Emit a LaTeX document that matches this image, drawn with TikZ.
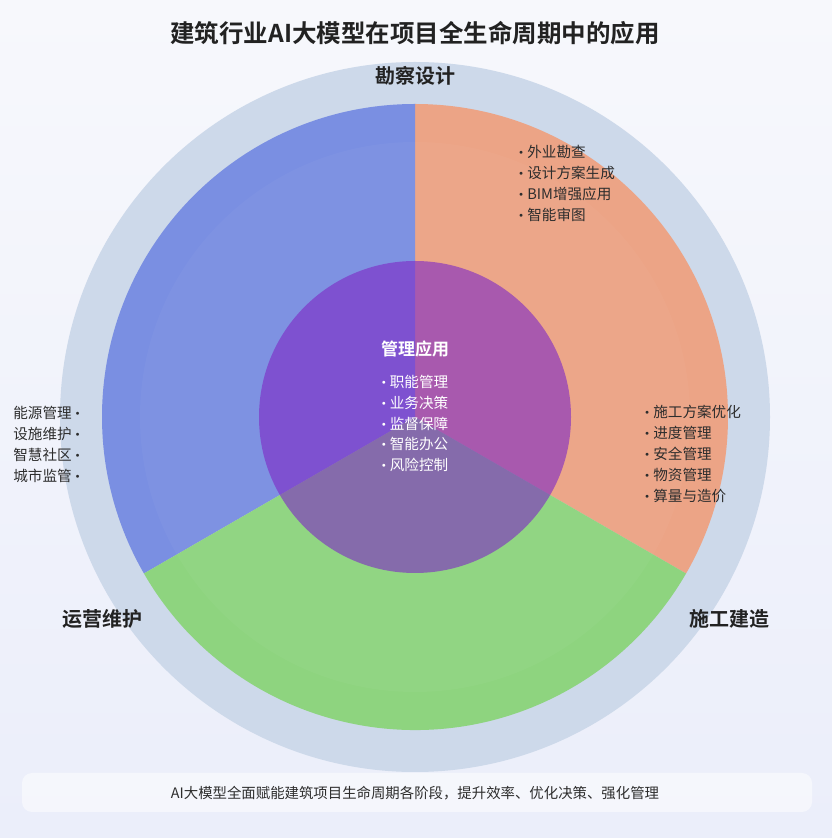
\documentclass[tikz,border=0pt]{standalone}
\usepackage{fontspec}
\setmainfont{Noto Sans CJK SC}[BoldFont={Noto Sans CJK SC Bold}]
\definecolor{bgtop}{RGB}{247,248,252}
\definecolor{bgbot}{RGB}{235,238,250}
\definecolor{ringc}{RGB}{205,217,234}
\definecolor{designc}{RGB}{236,164,134}
\definecolor{buildc}{RGB}{142,212,127}
\definecolor{operc}{RGB}{122,143,226}
\definecolor{mgmtc}{RGB}{127,42,197}
\definecolor{txtc}{RGB}{45,45,45}
\definecolor{headc}{RGB}{34,34,34}
\newcommand{\itm}{\raisebox{3pt}{\fontsize{7}{7}\selectfont$\bullet$}\hspace{4pt}}
\newcommand{\mti}{\hspace{4pt}\raisebox{3pt}{\fontsize{7}{7}\selectfont$\bullet$}}
\tikzset{
  phase/.style={font=\fontsize{20}{24}\selectfont\bfseries, text=headc, inner sep=0pt},
  items/.style={font=\fontsize{14.6}{20.8}\selectfont, text=txtc, inner sep=0pt},
}
\begin{document}
\begin{tikzpicture}[x=1pt,y=1pt]
\shade[top color=bgtop,bottom color=bgbot] (0,0) rectangle (832,838);
\useasboundingbox (0,0) rectangle (832,838);
\coordinate (O) at (415,421);
\fill[ringc] (O) circle (355);
\fill[designc] (O) -- ++(90:313) arc (90:-30:313) -- cycle;
\fill[operc] (O) -- ++(90:313) arc (90:210:313) -- cycle;
\fill[buildc] (O) -- ++(210:313) arc (210:330:313) -- cycle;
\fill[white,opacity=.03] (O) circle (275);
\fill[mgmtc,opacity=.62] (O) circle (156);

\node[font=\fontsize{24.5}{30}\selectfont\bfseries, text=headc, inner sep=0pt] (title) at (415,805) {建筑行业AI大模型在项目全生命周期中的应用};
\node[phase] (design) at (415,762) {勘察设计};
\node[phase] (oper) at (102,219) {运营维护};
\node[phase] (build) at (729,219) {施工建造};
\node[phase, text=white, font=\fontsize{17}{20}\selectfont\bfseries] (mgmt) at (415,489) {管理应用};

\node[items, align=left, anchor=west] (designlist) at (519,654.5)
  {\itm 外业勘查\\\itm 设计方案生成\\\itm BIM增强应用\\\itm 智能审图};
\node[items, align=left, anchor=west] (buildlist) at (645,384)
  {\itm 施工方案优化\\\itm 进度管理\\\itm 安全管理\\\itm 物资管理\\\itm 算量与造价};
\node[items, align=right, anchor=east] (operlist) at (80,393.5)
  {能源管理\mti\\设施维护\mti\\智慧社区\mti\\城市监管\mti};
\node[items, align=left, text=white] (mgmtlist) at (415,414.5)
  {\itm 职能管理\\\itm 业务决策\\\itm 监督保障\\\itm 智能办公\\\itm 风险控制};

\fill[white,opacity=.5,rounded corners=10pt] (22,26) rectangle (812,65);
\node[font=\fontsize{14.4}{16}\selectfont, text=txtc, inner sep=0pt] (note) at (415,45)
  {AI大模型全面赋能建筑项目生命周期各阶段，提升效率、优化决策、强化管理};
\end{tikzpicture}
\end{document}
